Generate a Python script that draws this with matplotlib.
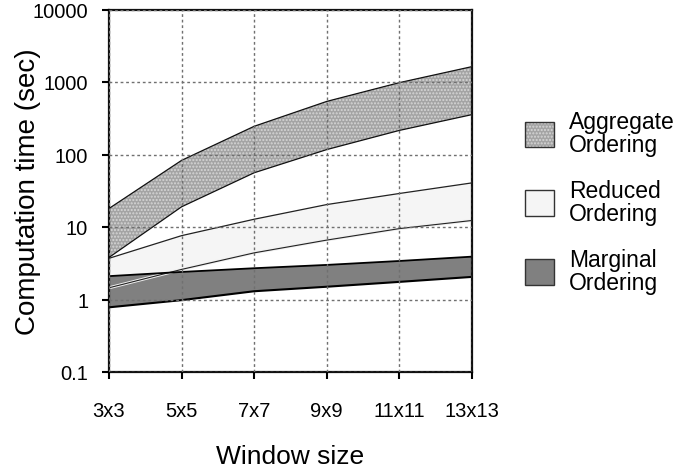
import matplotlib
matplotlib.use('Agg')
import matplotlib.pyplot as plt
from matplotlib.patches import Patch
import numpy as np

plt.rcParams['font.family'] = ['Liberation Sans', 'DejaVu Sans']
plt.rcParams['hatch.linewidth'] = 1.0

# window sizes and computation times (sec)
windows = ['3x3', '5x5', '7x7', '9x9', '11x11', '13x13']
aggregate_hi = [18, 83, 245, 540, 980, 1630]
aggregate_lo = [3.8, 19, 56, 117, 215, 355]
reduced_hi = [3.7, 7.6, 12.8, 20.4, 29, 40.6]
reduced_lo = [1.45, 2.6, 4.4, 6.6, 9.5, 12.3]
marginal_hi = [2.1, 2.4, 2.7, 3.0, 3.4, 3.9]
marginal_lo = [0.78, 0.98, 1.3, 1.5, 1.75, 2.05]

x = np.arange(len(windows))

fig = plt.figure(figsize=(6.77, 4.77), dpi=100)
ax = fig.add_axes([109/677, 1-373/477, 363/677, 362.5/477])

agg_face, agg_dots = '#a4a4a4', '#d6d6d6'

# aggregate band: stippled grey
ax.fill_between(x, aggregate_lo, aggregate_hi, facecolor=agg_face,
                edgecolor=agg_dots, hatch='.....', linewidth=0, zorder=1)
ax.plot(x, aggregate_hi, color='#111111', lw=0.9, zorder=2)
ax.plot(x, aggregate_lo, color='#111111', lw=0.9, zorder=2)

# reduced band: near white
ax.fill_between(x, reduced_lo, reduced_hi, facecolor='#f5f5f5', linewidth=0, zorder=1)
ax.plot(x, reduced_hi, color='#222222', lw=0.9, zorder=2)

# marginal band: dark grey
ax.fill_between(x, marginal_lo, marginal_hi, facecolor='#808080', linewidth=0, zorder=1.2)
ax.plot(x, reduced_lo, color='#f0f0f0', lw=2.2, zorder=2)
ax.plot(x, reduced_lo, color='#222222', lw=0.8, zorder=2.1)
ax.plot(x, marginal_hi, color='#000000', lw=1.3, zorder=2.2)
ax.plot(x, marginal_lo, color='#000000', lw=1.5, zorder=2.2)

ax.set_yscale('log')
ax.set_ylim(0.1, 10000)
ax.set_xlim(0, len(windows) - 1)
ax.set_yticks([0.1, 1, 10, 100, 1000, 10000])
ax.set_yticklabels(['0.1', '1', '10', '100', '1000', '10000'])
ax.minorticks_off()
ax.set_xticks(x)
ax.set_xticklabels(windows)

ax.set_axisbelow(False)
ax.grid(True, color='#707070', linestyle=(0, (2, 2)), linewidth=1.0)
for s in ax.spines.values():
    s.set_linewidth(1.6)
    s.set_color('#111111')
ax.tick_params(axis='y', direction='out', length=5, width=1.5, pad=10, labelsize=14.5)
ax.tick_params(axis='x', direction='out', length=5, width=1.5, pad=16, labelsize=14.5)

ax.set_ylabel('Computation time (sec)', fontsize=20)
ax.yaxis.set_label_coords(-0.187, 0.5)
ax.set_xlabel('Window size', fontsize=19)
ax.xaxis.set_label_coords(0.5, -0.2)

# legend boxes: face (+ stipple) overlaid with a dark outline
outline = dict(facecolor='none', edgecolor='#333333', linewidth=1.0)
handles = [
    (Patch(facecolor=agg_face, edgecolor=agg_dots, hatch='.....', linewidth=0), Patch(**outline)),
    (Patch(facecolor='#f5f5f5', linewidth=0), Patch(**outline)),
    (Patch(facecolor='#808080', linewidth=0), Patch(**outline)),
]
leg = fig.legend(handles, ['Aggregate\nOrdering', 'Reduced\nOrdering', 'Marginal\nOrdering'],
                 loc='center left', bbox_to_anchor=(525/677, 1-203/477),
                 frameon=False, fontsize=16.5, handlelength=1.27, handleheight=1.35,
                 handletextpad=0.65, labelspacing=1.0, borderpad=0, borderaxespad=0)
for t in leg.get_texts():
    t.set_linespacing(1.0)

fig.savefig('out.png', dpi=100)
